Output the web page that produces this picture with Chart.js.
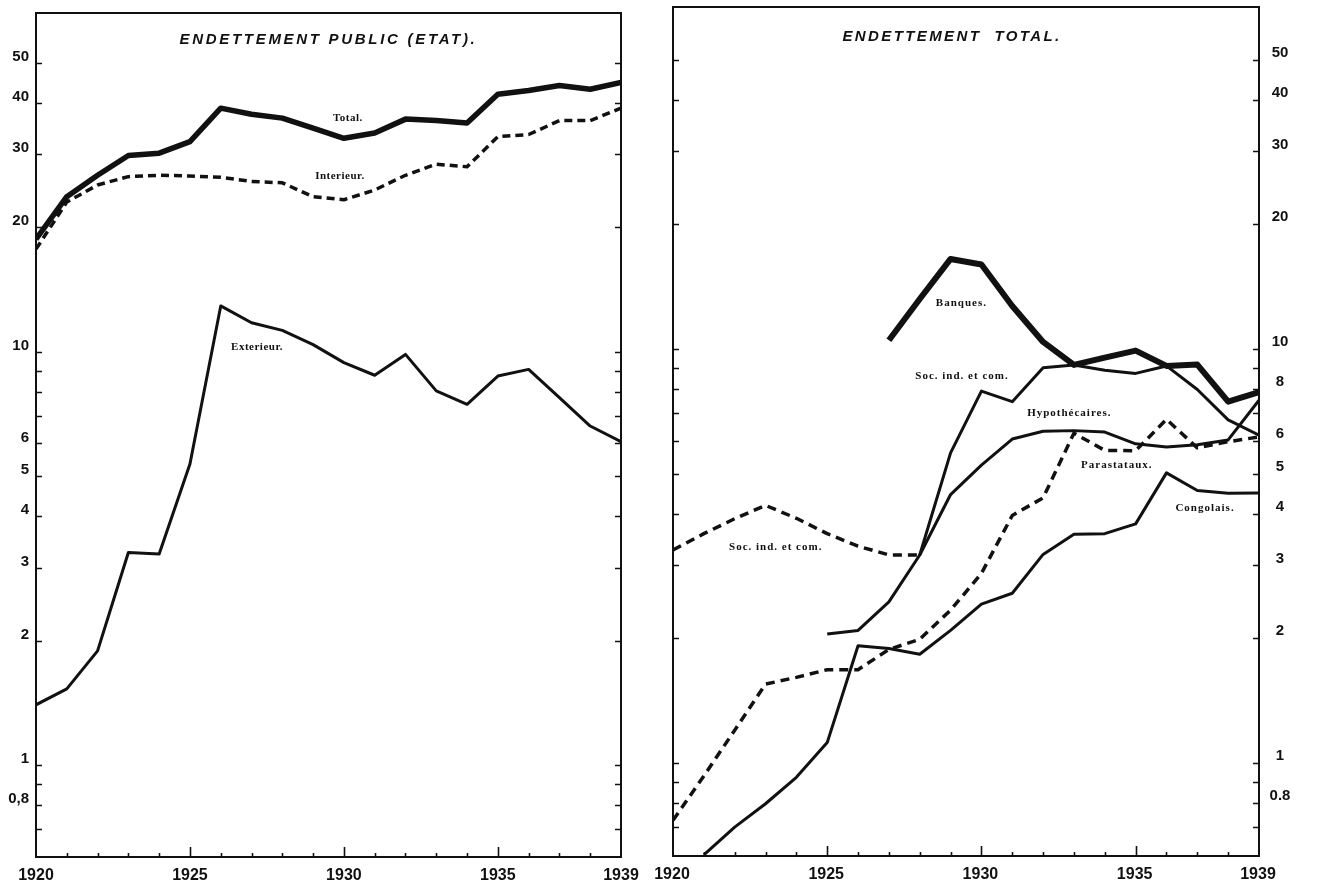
<!DOCTYPE html>
<html>
<head>
<meta charset="utf-8">
<title>Endettement public et total</title>
<script src="https://cdn.jsdelivr.net/npm/chart.js@4.4.1/dist/chart.umd.min.js"></script>
<style>
  html, body { margin: 0; padding: 0; background: #fff; }
  #page { position: relative; width: 1317px; height: 888px; overflow: hidden; background: #fff; }
  .panel { position: absolute; top: 0; height: 888px; }
</style>
</head>
<body>
<div id="page">
  <div class="panel" style="left:0;width:650px"><canvas id="publicChart"></canvas></div>
  <div class="panel" style="left:650px;width:667px"><canvas id="totalChart"></canvas></div>
</div>
<script>
// Years on the horizontal axis
const years = [1920, 1921, 1922, 1923, 1924, 1925, 1926, 1927, 1928, 1929,
               1930, 1931, 1932, 1933, 1934, 1935, 1936, 1937, 1938, 1939];
const yearLabels = [1920, 1925, 1930, 1935, 1939];
const majorYears = [1925, 1930, 1935];

// Public (State) debt, milliards
const publicTotal     = [18.7, 23.7, 26.7, 29.8, 30.2, 32.2, 38.8, 37.5, 36.7, 34.7,
                         32.8, 33.8, 36.5, 36.2, 35.7, 41.9, 42.8, 44.0, 43.1, 44.8];
const publicInterieur = [17.7, 23.0, 25.3, 26.5, 26.7, 26.6, 26.4, 25.8, 25.6, 23.7,
                         23.3, 24.6, 26.7, 28.4, 28.0, 33.1, 33.5, 36.2, 36.2, 38.8];
const publicExterieur = [1.40, 1.53, 1.89, 3.27, 3.24, 5.35, 12.9, 11.75, 11.26, 10.4,
                         9.41, 8.77, 9.85, 8.04, 7.46, 8.73, 9.06, 7.74, 6.61, 6.06];

// Total debt by debtor group
const banques         = [null, null, null, null, null, null, null, 10.5, 13.2, 16.5,
                         16.0, 12.7, 10.4, 9.15, 9.53, 9.91, 9.1, 9.17, 7.46, 7.87];
const socIndComAvant  = [3.27, 3.58, 3.89, 4.19, 3.90, 3.58, 3.34, 3.18, 3.18, null,
                         null, null, null, null, null, null, null, null, null, null];
const socIndCom       = [null, null, null, null, null, null, null, null, 3.18, 5.61,
                         7.91, 7.46, 9.01, 9.15, 8.88, 8.73, 9.1, 7.98, 6.74, 6.19];
const hypothecaires   = [null, null, null, null, null, 2.05, 2.09, 2.45, 3.18, 4.45,
                         5.24, 6.06, 6.33, 6.35, 6.30, 5.90, 5.80, 5.87, 6.03, 7.52];
const parastataux     = [0.727, 0.93, 1.2, 1.55, 1.61, 1.68, 1.68, 1.88, 1.99, 2.34,
                         2.87, 3.96, 4.37, 6.26, 5.69, 5.68, 6.76, 5.77, 5.97, 6.13];
const congolais       = [null, 0.6, 0.70, 0.797, 0.923, 1.12, 1.92, 1.89, 1.83, 2.09,
                         2.42, 2.57, 3.19, 3.57, 3.58, 3.78, 5.02, 4.55, 4.48, 4.49];

// Logarithmic scale graduations
const tickMarks = [0.7, 0.8, 0.9, 1, 2, 3, 4, 5, 6, 7, 8, 9, 10, 20, 30, 40, 50];
const publicTickValues = [50, 40, 30, 20, 10, 6, 5, 4, 3, 2, 1, 0.8];
const publicTickText   = ['50', '40', '30', '20', '10', '6', '5', '4', '3', '2', '1', '0,8'];
const totalTickValues  = [50, 40, 30, 20, 10, 8, 6, 5, 4, 3, 2, 1, 0.8];
const totalTickText    = ['50', '40', '30', '20', '10', '8', '6', '5', '4', '3', '2', '1', '0.8'];

const INK = '#111';

function series(values) {
  return years.map((yr, i) => ({ x: yr, y: values[i] }));
}

function lineSet(label, values, width, dash) {
  return {
    label,
    data: series(values),
    borderColor: INK,
    borderWidth: width,
    borderDash: dash || [],
    borderCapStyle: 'butt',
    borderJoinStyle: 'round',
    pointRadius: 0,
    tension: 0,
    spanGaps: false,
    fill: false
  };
}

// Draws the frame, inward graduations, tick labels, title and curve names
const frame = {
  id: 'frame',
  afterDraw(chart, args, o) {
    const { ctx, chartArea: a, scales: { x, y } } = chart;
    ctx.save();
    ctx.strokeStyle = INK;
    ctx.fillStyle = INK;

    ctx.lineWidth = 2;
    ctx.strokeRect(a.left, a.top, a.right - a.left, a.bottom - a.top);

    ctx.lineWidth = 1.6;
    ctx.beginPath();
    for (const v of tickMarks) {
      const py = Math.round(y.getPixelForValue(v)) + 0.5;
      ctx.moveTo(a.left, py); ctx.lineTo(a.left + 6, py);
      ctx.moveTo(a.right, py); ctx.lineTo(a.right - 6, py);
    }
    for (const yr of years) {
      if (yr === years[0] || yr === years[years.length - 1]) continue;
      const px = Math.round(x.getPixelForValue(yr)) + 0.5;
      const len = majorYears.includes(yr) ? 10 : 4;
      ctx.moveTo(px, a.bottom); ctx.lineTo(px, a.bottom - len);
    }
    ctx.stroke();

    // value labels on the vertical axis
    ctx.font = 'bold 15px "Liberation Sans", Arial, sans-serif';
    ctx.textBaseline = 'middle';
    o.tickValues.forEach((v, i) => {
      const py = y.getPixelForValue(v) - o.labelLift;
      if (o.side === 'left') {
        ctx.textAlign = 'right';
        ctx.fillText(o.tickText[i], a.left - 7, py);
      } else {
        ctx.textAlign = 'center';
        ctx.fillText(o.tickText[i], a.right + 21, py);
      }
    });

    // year labels
    ctx.font = 'bold 16px "Liberation Sans", Arial, sans-serif';
    ctx.textAlign = 'center';
    yearLabels.forEach(yr => {
      ctx.fillText(String(yr), x.getPixelForValue(yr) + o.yearShift, a.bottom + 19);
    });

    // title
    ctx.font = 'italic bold 15px "Liberation Sans", Arial, sans-serif';
    ctx.letterSpacing = o.titleSpacing;
    ctx.textAlign = 'center';
    ctx.fillText(o.title, (a.left + a.right) / 2 + o.titleShift, a.top + o.titleDrop);

    // curve names
    ctx.font = o.noteFont;
    ctx.letterSpacing = o.noteSpacing;
    for (const n of o.notes) {
      ctx.fillText(n.text, x.getPixelForValue(n.year), y.getPixelForValue(n.value));
    }
    ctx.restore();
  }
};

function makeChart(id, datasets, yMin, yMax, padding, frameOpts) {
  return new Chart(document.getElementById(id), {
    type: 'line',
    data: { datasets },
    options: {
      responsive: true,
      maintainAspectRatio: false,
      animation: false,
      events: [],
      layout: { padding },
      scales: {
        x: { type: 'linear', min: 1920, max: 1939, display: false },
        y: { type: 'logarithmic', min: yMin, max: yMax, display: false }
      },
      plugins: {
        legend: { display: false },
        tooltip: { enabled: false },
        frame: frameOpts
      }
    },
    plugins: [frame]
  });
}

makeChart('publicChart', [
  lineSet('Total.', publicTotal, 5.5),
  lineSet('Interieur.', publicInterieur, 3.5, [8, 5]),
  lineSet('Exterieur.', publicExterieur, 3)
], 0.6054, 65.9, { left: 36, right: 29, top: 13, bottom: 31 }, {
  side: 'left',
  tickValues: publicTickValues,
  tickText: publicTickText,
  labelLift: 6,
  yearShift: 0,
  title: 'ENDETTEMENT PUBLIC (ETAT).',
  titleSpacing: '2.7px',
  titleShift: 0,
  titleDrop: 27,
  noteFont: 'bold 11px "Liberation Serif", "DejaVu Serif", serif',
  noteSpacing: '0.5px',
  notes: [
    { text: 'Total.', year: 1930.13, value: 36.7 },
    { text: 'Interieur.', year: 1929.87, value: 26.6 },
    { text: 'Exterieur.', year: 1927.18, value: 10.24 }
  ]
});

makeChart('totalChart', [
  lineSet('Banques.', banques, 6),
  lineSet('Soc. ind. et com.', socIndComAvant, 3.5, [9, 6]),
  lineSet('Soc. ind. et com.', socIndCom, 3),
  lineSet('Hypothécaires.', hypothecaires, 3),
  lineSet('Parastataux.', parastataux, 3.5, [9, 6]),
  lineSet('Congolais.', congolais, 3)
], 0.596, 67.0, { left: 23, right: 58, top: 7, bottom: 32 }, {
  side: 'right',
  tickValues: totalTickValues,
  tickText: totalTickText,
  labelLift: 7,
  yearShift: -1,
  title: 'ENDETTEMENT  TOTAL.',
  titleSpacing: '2.4px',
  titleShift: -14,
  titleDrop: 30,
  noteFont: 'bold 11px "Liberation Serif", "DejaVu Serif", serif',
  noteSpacing: '1px',
  notes: [
    { text: 'Banques.', year: 1929.35, value: 12.9 },
    { text: 'Soc. ind. et com.', year: 1929.37, value: 8.61 },
    { text: 'Soc. ind. et com.', year: 1923.33, value: 3.33 },
    { text: 'Hypothécaires.', year: 1932.85, value: 7.0 },
    { text: 'Parastataux.', year: 1934.39, value: 5.25 },
    { text: 'Congolais.', year: 1937.25, value: 4.13 }
  ]
});
</script>
</body>
</html>
